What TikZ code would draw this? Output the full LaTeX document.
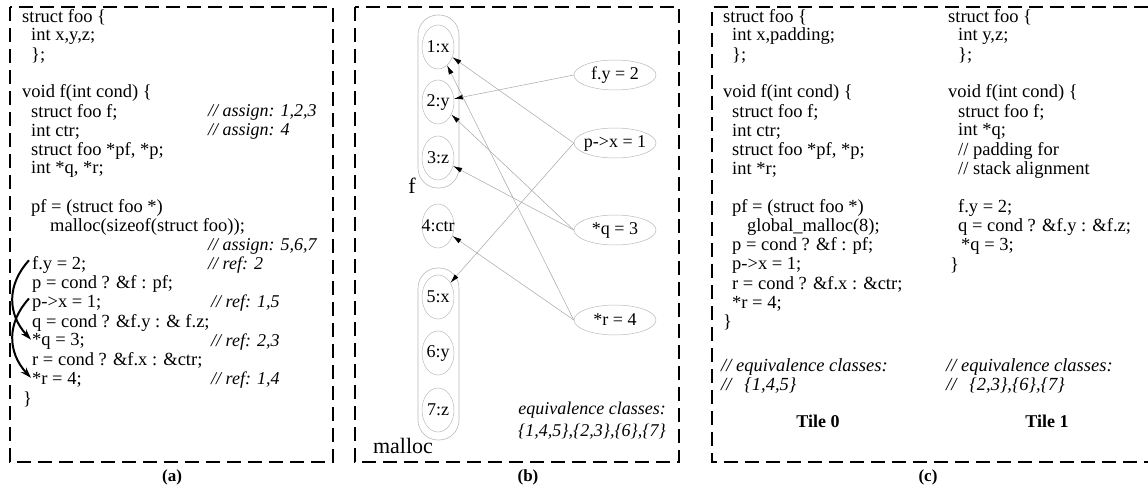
\documentclass[tikz,border=0pt]{standalone}
\usepackage{fontspec}
\setmainfont{Liberation Serif}
\usetikzlibrary{arrows.meta,shapes.geometric}
\newcommand\codeY[1]{17+19.1*(#1)}
\begin{document}
\begin{tikzpicture}[x=1pt,y=-1pt,
  code/.style={anchor=west,inner sep=0pt,font=\fontsize{18.5}{19}\selectfont},
  cmt/.style={anchor=west,inner sep=0pt,font=\fontsize{18}{19}\selectfont\itshape},
  captext/.style={inner sep=0pt,font=\fontsize{17}{18}\selectfont\bfseries},
  panel/.style={draw,line width=1.3pt,dash pattern=on 14pt off 7pt},
  fld/.style={ellipse,draw=gray!55,line width=0.5pt,minimum width=32pt,minimum height=44pt,inner xsep=-10pt,inner ysep=0pt,font=\fontsize{18}{19}\selectfont},
  stmt/.style={ellipse,draw=gray!55,line width=0.5pt,minimum width=82pt,minimum height=30pt,inner xsep=-8pt,inner ysep=0pt,font=\fontsize{18}{19}\selectfont},
  grp/.style={draw=gray!55,line width=0.6pt,rounded corners=20pt,minimum width=41pt},
  ptr/.style={draw=gray!70,line width=0.5pt,-{Latex[length=9pt,width=5pt,color=black]}},
  alias/.style={line width=2pt,-{Stealth[length=11pt,width=7pt]}}
]
\useasboundingbox (0,0) rectangle (1148,486);
% panels
\draw[panel] (10,7) rectangle (333,462);
\draw[panel] (355,7) rectangle (679,462);
\draw[panel] (1148,7) -- (712,7) -- (712,462) -- (1148,462);
\node[captext] (capa) at (172,477) {(a)};
\node[captext] (capb) at (528,477) {(b)};
\node[captext] (capc) at (928,477) {(c)};

% ---------- panel (a) ----------
\node[code] (a0) at (22,{\codeY{0}}) {struct foo \{};
\node[code] (a1) at (31,{\codeY{1}}) {int x,y,z;};
\node[code] (a2) at (31,{\codeY{2}}) {\};};
\node[code] (a4) at (22,{\codeY{4}}) {void f(int cond) \{};
\node[code] (a5) at (31,{\codeY{5}}) {struct foo f;};
\node[cmt] (m5) at (208,{\codeY{5}}) {// assign: 1,2,3};
\node[code] (a6) at (31,{\codeY{6}}) {int ctr;};
\node[cmt] (m6) at (208,{\codeY{6}}) {// assign: 4};
\node[code] (a7) at (31,{\codeY{7}}) {struct foo *pf, *p;};
\node[code] (a8) at (31,{\codeY{8}}) {int *q, *r;};
\node[code] (a10) at (31,{\codeY{10}}) {pf = (struct foo *)};
\node[code] (a11) at (50,{\codeY{11}}) {malloc(sizeof(struct foo));};
\node[cmt] (m12) at (208,{\codeY{12}}) {// assign: 5,6,7};
\node[code] (a13) at (32,{\codeY{13}}) {f.y = 2;};
\node[cmt] (m13) at (208,{\codeY{13}}) {// ref: 2};
\node[code] (a14) at (32,{\codeY{14}}) {p = cond ? \&f : pf;};
\node[code] (a15) at (32,{\codeY{15}}) {p->x = 1;};
\node[cmt] (m15) at (211,{\codeY{15}}) {// ref: 1,5};
\node[code] (a16) at (32,{\codeY{16}}) {q = cond ? \&f.y : \& f.z;};
\node[code] (a17) at (32,{\codeY{17}}) {*q = 3;};
\node[cmt] (m17) at (211,{\codeY{17}}) {// ref: 2,3};
\node[code] (a18) at (32,{\codeY{18}}) {r = cond ? \&f.x : \&ctr;};
\node[code] (a19) at (32,{\codeY{19}}) {*r = 4;};
\node[cmt] (m19) at (211,{\codeY{19}}) {// ref: 1,4};
\node[code] (a20) at (23,{\codeY{20}}) {\}};

\draw[alias] ([shift={(-3,-5)}]a13.west) .. controls +(-22,24) and +(-24,-26) .. ([shift={(-1,-2)}]a17.west);
\draw[alias] ([shift={(-3,-5)}]a15.west) .. controls +(-22,24) and +(-24,-26) .. ([shift={(-1,-2)}]a19.west);

% ---------- panel (b) ----------
\node[grp,minimum height=173pt] (fgrp) at (438.5,101.5) {};
\node[grp,minimum height=172pt] (mgrp) at (438.5,354) {};
\node[code,anchor=center,font=\fontsize{22}{24}\selectfont] (flab) at (412,186) {f};
\node[code,anchor=center,font=\fontsize{22}{24}\selectfont] (mlab) at (403,446) {malloc};
\node[fld] (n1) at (438,47) {1:x};
\node[fld] (n2) at (438,102) {2:y};
\node[fld] (n3) at (438,158) {3:z};
\node[fld] (n4) at (438,226) {4:ctr};
\node[fld] (n5) at (438,297) {5:x};
\node[fld] (n6) at (438,353) {6:y};
\node[fld] (n7) at (438,410) {7:z};
\node[stmt] (s1) at (615,75) {f.y = 2};
\node[stmt] (s2) at (615,143) {p->x = 1};
\node[stmt] (s3) at (615,230) {*q = 3};
\node[stmt] (s4) at (615,320) {*r = 4};
\draw[ptr] (s1.west) -- (n2);
\draw[ptr] (s2.west) -- (n1);
\draw[ptr] (s2.west) -- (n5);
\draw[ptr] (s3.west) -- (n2);
\draw[ptr] (s3.west) -- (n3);
\draw[ptr] (s4.west) -- (n1);
\draw[ptr] (s4.west) -- (n4);
\node[cmt,anchor=east] (eqb1) at (666,410) {equivalence classes:};
\node[cmt,anchor=east] (eqb2) at (666,432) {\{1,4,5\},\{2,3\},\{6\},\{7\}};

% ---------- panel (c), tile 0 ----------
\node[code] (c0) at (723,{\codeY{0}}) {struct foo \{};
\node[code] (c1) at (732,{\codeY{1}}) {int x,padding;};
\node[code] (c2) at (732,{\codeY{2}}) {\};};
\node[code] (c4) at (723,{\codeY{4}}) {void f(int cond) \{};
\node[code] (c5) at (732,{\codeY{5}}) {struct foo f;};
\node[code] (c6) at (732,{\codeY{6}}) {int ctr;};
\node[code] (c7) at (732,{\codeY{7}}) {struct foo *pf, *p;};
\node[code] (c8) at (732,{\codeY{8}}) {int *r;};
\node[code] (c10) at (732,{\codeY{10}}) {pf = (struct foo *)};
\node[code] (c11) at (747,{\codeY{11}}) {global\_malloc(8);};
\node[code] (c12) at (732,{\codeY{12}}) {p = cond ? \&f : pf;};
\node[code] (c13) at (732,{\codeY{13}}) {p->x = 1;};
\node[code] (c14) at (732,{\codeY{14}}) {r = cond ? \&f.x : \&ctr;};
\node[code] (c15) at (732,{\codeY{15}}) {*r = 4;};
\node[code] (c16) at (723,{\codeY{16}}) {\}};
\node[cmt,font=\fontsize{18.5}{19}\selectfont\itshape] (c19) at (721,367) {// equivalence classes:};
\node[cmt,font=\fontsize{18.5}{19}\selectfont\itshape] (c20) at (721,386) {//\hspace{13pt}\{1,4,5\}};
\node[captext,font=\fontsize{18}{19}\selectfont\bfseries] (t0) at (818,421) {Tile 0};

% ---------- panel (c), tile 1 ----------
\node[code] (d0) at (948,{\codeY{0}}) {struct foo \{};
\node[code] (d1) at (958,{\codeY{1}}) {int y,z;};
\node[code] (d2) at (958,{\codeY{2}}) {\};};
\node[code] (d4) at (948,{\codeY{4}}) {void f(int cond) \{};
\node[code] (d5) at (958,{\codeY{5}}) {struct foo f;};
\node[code] (d6) at (958,{\codeY{6}}) {int *q;};
\node[code] (d7) at (958,{\codeY{7}}) {// padding for};
\node[code] (d8) at (958,{\codeY{8}}) {// stack alignment};
\node[code] (d10) at (958,{\codeY{10}}) {f.y = 2;};
\node[code] (d11) at (958,{\codeY{11}}) {q = cond ? \&f.y : \&f.z;};
\node[code] (d12) at (961,{\codeY{12}}) {*q = 3;};
\node[code] (d13) at (950,{\codeY{13}}) {\}};
\node[cmt,font=\fontsize{18.5}{19}\selectfont\itshape] (d19) at (946,367) {// equivalence classes:};
\node[cmt,font=\fontsize{18.5}{19}\selectfont\itshape] (d20) at (946,386) {//\hspace{13pt}\{2,3\},\{6\},\{7\}};
\node[captext,font=\fontsize{18}{19}\selectfont\bfseries] (t1) at (1047,421) {Tile 1};
\end{tikzpicture}
\end{document}
